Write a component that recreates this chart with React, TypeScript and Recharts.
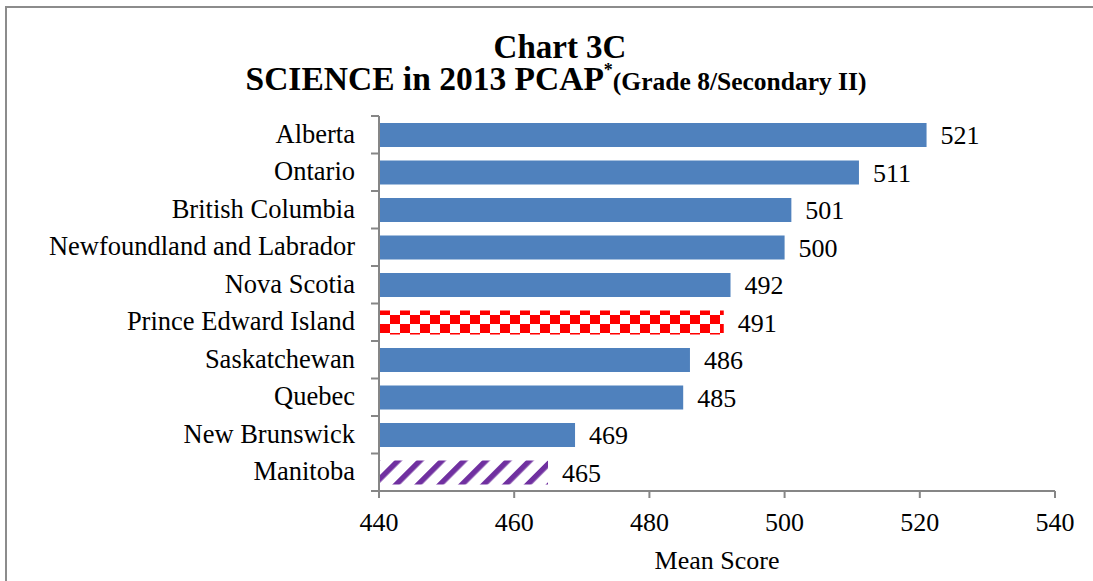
import React from 'react';
import { BarChart, Bar, XAxis, YAxis, Cell, LabelList } from 'recharts';

const provinces = [
  'Alberta',
  'Ontario',
  'British Columbia',
  'Newfoundland and Labrador',
  'Nova Scotia',
  'Prince Edward Island',
  'Saskatchewan',
  'Quebec',
  'New Brunswick',
  'Manitoba',
];
const scores = [521, 511, 501, 500, 492, 491, 486, 485, 469, 465];
const xTicks = [440, 460, 480, 500, 520, 540];

const data = provinces.map((name, i) => ({ name, score: scores[i] }));

const fillFor = (name: string) => {
  if (name === 'Prince Edward Island') return 'url(#checker)';
  if (name === 'Manitoba') return 'url(#stripes)';
  return '#4F81BD';
};

const FONT = '"Liberation Serif", "Times New Roman", serif';
const AXIS = '#868686';

const CatTick = (props: any) => {
  const { x, y, payload, index, visibleTicksCount } = props;
  const half = payload && payload.offset ? payload.offset : 18.75;
  const axisX = x + 24;
  return (
    <g>
      <text x={x} y={y} dy={8} textAnchor="end" fontFamily={FONT} fontSize={26.5} fill="#000">
        {payload.value}
      </text>
      <line x1={axisX - 8} x2={axisX} y1={y - half} y2={y - half} stroke={AXIS} strokeWidth={2} />
      {index === visibleTicksCount - 1 ? (
        <line x1={axisX - 8} x2={axisX} y1={y + half} y2={y + half} stroke={AXIS} strokeWidth={2} />
      ) : null}
    </g>
  );
};

export default function App() {
  return (
    <div style={{ position: 'absolute', left: 0, top: 0, width: 1093, height: 581, background: '#fff', overflow: 'hidden' }}>
      <div
        style={{
          position: 'absolute',
          left: 5,
          top: 6,
          width: 1200,
          height: 700,
          borderTop: '2px solid #8c8c8c',
          borderLeft: '2px solid #8c8c8c',
        }}
      />
      <div style={{ position: 'absolute', left: 0, top: 0 }}>
        <BarChart
          width={1093}
          height={581}
          data={data}
          layout="vertical"
          margin={{ top: 116, right: 38, left: 0, bottom: 0 }}
        >
          <defs>
            <pattern id="checker" width="20" height="18" patternUnits="userSpaceOnUse">
              <rect width="20" height="18" fill="#fff" />
              <rect x="0" y="0" width="10" height="9" fill="#FF0000" />
              <rect x="10" y="9" width="10" height="9" fill="#FF0000" />
            </pattern>
            <pattern id="stripes" width="15.5" height="15.5" patternUnits="userSpaceOnUse" patternTransform="rotate(45)">
              <rect width="15.5" height="15.5" fill="#fff" />
              <rect x="0" y="0" width="5.5" height="15.5" fill="#7030A0" />
            </pattern>
          </defs>
          <XAxis
            type="number"
            dataKey="score"
            domain={[440, 540]}
            ticks={xTicks}
            interval={0}
            height={90}
            tickSize={7}
            tickMargin={15}
            stroke={AXIS}
            strokeWidth={2}
            tick={{ fontFamily: FONT, fontSize: 26, fill: '#000' }}
            label={{
              value: 'Mean Score',
              position: 'insideBottom',
              offset: 12,
              style: { fontFamily: FONT, fontSize: 26, fill: '#000' },
            }}
          />
          <YAxis
            type="category"
            dataKey="name"
            width={379}
            interval={0}
            tickSize={8}
            tickMargin={16}
            tickLine={false}
            stroke={AXIS}
            strokeWidth={2}
            tick={<CatTick />}
          />
          <Bar dataKey="score" barSize={24} isAnimationActive={false}>
            {data.map((d) => (
              <Cell key={d.name} fill={fillFor(d.name)} />
            ))}
            <LabelList
              dataKey="score"
              position="right"
              offset={14}
              style={{ fontFamily: FONT, fontSize: 26, fill: '#000' }}
            />
          </Bar>
        </BarChart>
      </div>
      <svg width={1093} height={110} style={{ position: 'absolute', left: 0, top: 0 }}>
        <text x={560} y={58} textAnchor="middle" fontFamily={FONT} fontWeight="bold" fontSize={33} fill="#000">
          Chart 3C
        </text>
        <text x={556} y={90} textAnchor="middle" fontFamily={FONT} fontWeight="bold" fill="#000">
          <tspan fontSize={33.5}>SCIENCE in 2013 PCAP</tspan>
          <tspan fontSize={18} dy={-14}>*</tspan>
          <tspan fontSize={25.5} dy={14}>(Grade 8/Secondary II)</tspan>
        </text>
      </svg>
    </div>
  );
}
